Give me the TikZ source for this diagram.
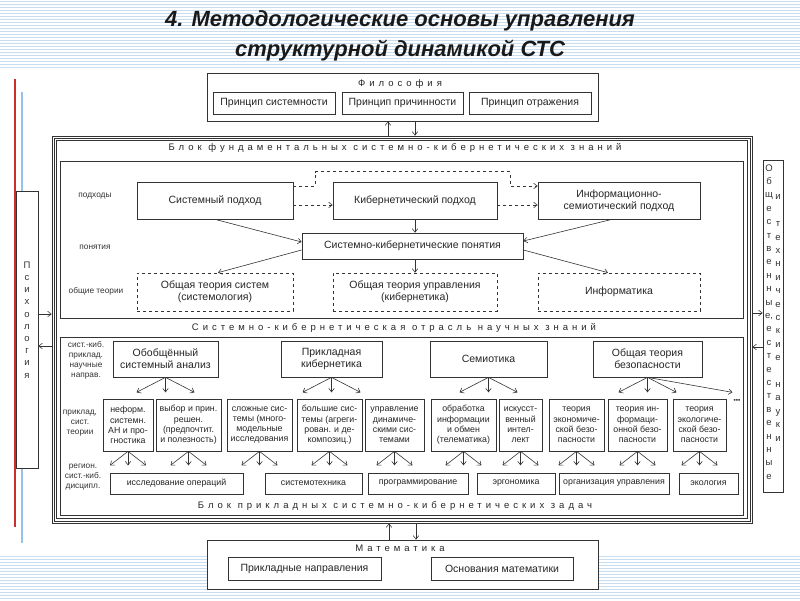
\documentclass[tikz,border=0pt]{standalone}
\usepackage{fontspec}
\setmainfont{Liberation Sans}
\usetikzlibrary{arrows,arrows.meta,calc}
\definecolor{stripeblue}{RGB}{200,222,240}
\definecolor{linered}{RGB}{205,45,45}
\definecolor{lineblue}{RGB}{150,192,232}

\begin{document}
\begin{tikzpicture}[x=1pt,y=-1pt,
    panel/.style={draw=black!80,line width=0.7pt},
    box/.style={draw=black!80,line width=0.7pt,fill=white,align=center,inner sep=1pt,text=black!85,font=\fontsize{10.5}{12}\selectfont},
    dbox/.style={box,dashed},
    sbox/.style={box,font=\fontsize{8.8}{10.3}\selectfont},
    lbl/.style={align=center,inner sep=0pt,text=black!80,font=\fontsize{8.3}{9.8}\selectfont},
    spaced/.style={inner sep=0pt,text=black!85,font=\fontsize{9.5}{11}\selectfont\addfontfeature{LetterSpace=42}},
    vtext/.style={align=center,inner sep=0pt,text=black!80,font=\fontsize{9.5}{13.4}\selectfont},
    arr/.style={-{Straight Barb[length=3.5pt,width=5.5pt]},draw=black!80,line width=0.6pt},
    darr/.style={arr,dashed},
    stripe/.style={draw=stripeblue,line width=1.2pt}]
  \useasboundingbox (0,0) rectangle (800,600);
  % background of the slide
  \foreach \y in {1.5,4.5,...,67.5} \draw[stripe] (0,\y) -- (800,\y);
  \foreach \y in {556.5,559.5,...,600} \draw[stripe] (0,\y) -- (800,\y);
  \draw[draw=linered,line width=1.5pt] (15,79) -- (15,527);
  \draw[draw=lineblue,line width=2pt] (21.5,92) -- (21.5,543);
  \node[font=\fontsize{22}{26}\selectfont\bfseries\itshape,text=black!90] (title1) at (400,21) {4. Методологические основы управления};
  \node[font=\fontsize{22}{26}\selectfont\bfseries\itshape,text=black!90] (title2) at (400,51) {структурной динамикой СТС};

  % philosophy
  \node[box,minimum width=391,minimum height=48] (phil) at (402.5,97) {};
  \node[spaced] (philtitle) at (400,84) {Философия};
  \node[box,minimum width=122,minimum height=22] (pr1) at (274,103) {Принцип системности};
  \node[box,minimum width=121,minimum height=22] (pr2) at (402.5,103) {Принцип причинности};
  \node[box,minimum width=122,minimum height=22] (pr3) at (530,103) {Принцип отражения};

  % big block, triple frame
  \node[panel,minimum width=700,minimum height=387] (main) at (402,329.5) {};
  \draw[panel,line width=0.5pt] ($(main.north west)+(2.5,2.5)$) rectangle ($(main.south east)+(-2.5,-2.5)$);
  \draw[panel,line width=0.5pt] ($(main.north west)+(5,5)$) rectangle ($(main.south east)+(-5,-5)$);
  \node[panel,minimum width=683,minimum height=157] (fund) at (401.5,239.5) {};
  \node[panel,minimum width=683,minimum height=178] (appl) at (401.5,426) {};
  \node[spaced] (fundtitle) at (395,148) {Блок фундаментальных системно-кибернетических знаний};
  \node[spaced] (branchtitle) at (394,328) {Системно-кибернетическая отрасль научных знаний};
  \node[spaced] (appltitle) at (395,506) {Блок прикладных системно-кибернетических задач};

  \coordinate (pup) at ($(main.north)+(-14,0)$);
  \coordinate (pdn) at ($(main.north)+(13,0)$);
  \draw[arr] (pup) -- (pup |- phil.south);
  \draw[arr] (pdn |- phil.south) -- (pdn);

  % psychology and sciences at the sides
  \node[box,minimum width=22,minimum height=277] (psych) at (27,329.5) {};
  \node[vtext,font=\fontsize{9.5}{12.2}\selectfont] (psychtext) at (27,320) {П\\с\\и\\х\\о\\л\\о\\г\\и\\я};
  \coordinate (psin) at ($(psych.east)+(0,-15.5)$);
  \coordinate (psout) at ($(psych.east)+(0,16.5)$);
  \draw[arr] (psin) -- (psin -| main.west);
  \draw[arr] (psout -| main.west) -- (psout);

  \node[box,minimum width=20,minimum height=332] (sci) at (773,326) {};
  \node[vtext] (scitext1) at (769,322) {О\\б\\щ\\е\\с\\т\\в\\е\\н\\н\\ы\\е,\\е\\с\\т\\е\\с\\т\\в\\е\\н\\н\\ы\\е};
  \node[vtext] (scitext2) at (778,318) {и\\ \\т\\е\\х\\н\\и\\ч\\е\\с\\к\\и\\е\\ \\н\\а\\у\\к\\и};
  \coordinate (scin) at ($(sci.west)+(0,-13)$);
  \coordinate (scout) at ($(sci.west)+(0,21)$);
  \draw[arr] (scin -| main.east) -- (scin);
  \draw[arr] (scout) -- (scout -| main.east);

  % fundamental block
  \node[lbl] at (95,196) {подходы};
  \node[lbl] at (95,247) {понятия};
  \node[lbl] at (96,291) {общие теории};
  \node[box,minimum width=156,minimum height=37] (sysap) at (215,200.5) {Системный подход};
  \node[box,minimum width=164,minimum height=37] (cybap) at (415,200.5) {Кибернетический подход};
  \node[box,minimum width=162,minimum height=37] (infap) at (619,200.5) {Информационно-\\семиотический подход};
  \node[box,minimum width=221,minimum height=26] (concepts) at (412.5,246) {Системно-кибернетические понятия};
  \node[dbox,minimum width=156,minimum height=38] (gts) at (215,292) {Общая теория систем\\(системология)};
  \node[dbox,minimum width=164,minimum height=38] (gtu) at (415,292) {Общая теория управления\\(кибернетика)};
  \node[dbox,minimum width=162,minimum height=38] (inform) at (619,292) {Информатика};

  \draw[darr] ($(sysap.east)+(0,4.5)$) -- ($(cybap.west)+(0,4.5)$);
  \draw[darr] ($(cybap.east)+(0,4.5)$) -- ($(infap.west)+(0,4.5)$);
  \draw[darr] ($(sysap.east)+(0,-14.5)$) -- ++(22,0) |- ($(cybap.north)+(95,-10)$) |- ($(infap.west)+(0,-14.5)$);
  \draw[arr] (sysap.south) -- ($(concepts.west)+(0,-4)$);
  \draw[arr] ($(concepts.west)+(0,4)$) -- ($(gts.north)+(3,0)$);
  \draw[arr] (cybap.south) -- (cybap.south |- concepts.north);
  \draw[arr] (gtu.north |- concepts.south) -- (gtu.north);
  \draw[arr] ($(infap.south)+(-7,0)$) -- ($(concepts.east)+(0,-5)$);
  \draw[arr] ($(concepts.east)+(0,4)$) -- ($(inform.north)+(-11,0)$);

  % applied block
  \node[lbl] at (86,360.5) {сист.-киб.\\приклад.\\научные\\направ.};
  \node[lbl] at (80,423) {приклад,\\сист.\\теории};
  \node[lbl] at (83,477) {регион.\\сист.-киб.\\дисципл.};
  \node[box,minimum width=105,minimum height=36] (gsa) at (165.5,359) {Обобщённый\\системный анализ};
  \node[box,minimum width=101,minimum height=36] (appcyb) at (331.5,359) {Прикладная\\кибернетика};
  \node[box,minimum width=117,minimum height=36] (semio) at (488.5,359) {Семиотика};
  \node[box,minimum width=109,minimum height=36] (safety) at (647.5,359) {Общая теория\\безопасности};
  \foreach \n in {gsa,appcyb,semio,safety}
    \foreach \dx in {-29,0,29} \draw[arr] (\n.south) -- ++(\dx,15);
  \draw[arr] (safety.south) -- ++(85,15);
  \node[inner sep=0pt,text=black!80,font=\fontsize{6.5}{7}\selectfont\bfseries] (more) at (737,401) {•••};

  \foreach \x/\w/\t [count=\i] in {128/50/{неформ.\\системн.\\АН и про-\\гностика},
      188.5/65/{выбор и прин.\\решен.\\(предпочтит.\\и полезность)},
      259.5/65/{сложные сис-\\темы (много-\\модельные\\исследования},
      329.5/65/{большие сис-\\темы (агреги-\\рован. и де-\\композиц.)},
      394.5/59/{управление\\динамиче-\\скими сис-\\темами},
      463.5/65/{обработка\\информации\\и обмен\\(телематика)},
      520.5/43/{искусст-\\венный\\интел-\\лект},
      576.5/55/{теория\\экономиче-\\ской безо-\\пасности},
      637.5/59/{теория ин-\\формаци-\\онной безо-\\пасности},
      699.5/53/{теория\\экологиче-\\ской безо-\\пасности}}
    \node[sbox,minimum width=\w,minimum height=52,inner sep=0pt] (th\i) at (\x,425) {\t};
  \foreach \i in {1,...,10}
    \foreach \dx in {-18,0,18} \draw[arr] (th\i.south) -- ++(\dx,14);

  \node[sbox,minimum width=133,minimum height=21] (ops) at (176.5,483.5) {исследование операций};
  \node[sbox,minimum width=97,minimum height=21] (syseng) at (313.5,483.5) {системотехника};
  \node[sbox,minimum width=100,minimum height=21] (prog) at (418,483.5) {программирование};
  \node[sbox,minimum width=78,minimum height=21] (ergo) at (516,483.5) {эргономика};
  \node[sbox,minimum width=110,minimum height=21] (orgm) at (614,483.5) {организация управления};
  \node[sbox,minimum width=59,minimum height=21] (ecol) at (708.5,483.5) {экология};

  % mathematics
  \node[box,minimum width=391,minimum height=49] (math) at (402.5,564.5) {};
  \node[spaced] (mathtitle) at (400,548) {Математика};
  \node[box,minimum width=153,minimum height=23] (mapp) at (304.5,568.5) {Прикладные направления};
  \node[box,minimum width=142,minimum height=23] (mfound) at (502,568.5) {Основания математики};
  \coordinate (mup) at ($(math.north)+(-13.5,0)$);
  \coordinate (mdn) at ($(math.north)+(13.5,0)$);
  \draw[arr] (mup) -- (mup |- main.south);
  \draw[arr] (mdn |- main.south) -- (mdn);
\end{tikzpicture}
\end{document}
